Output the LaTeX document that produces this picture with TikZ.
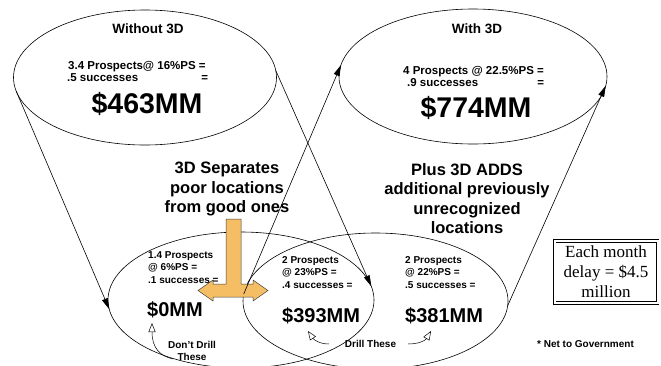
\documentclass[tikz,border=0pt]{standalone}
\usepackage{fontspec}
\setmainfont{Liberation Sans}
\newfontfamily\serifface{Liberation Serif}
\usetikzlibrary{shapes.geometric,arrows.meta}

\newcommand\fsz[2]{\fontsize{#1}{#2}\selectfont}
\definecolor{teefill}{RGB}{245,190,100}

\begin{document}
\begin{tikzpicture}[x=1pt,y=-1pt,
  bubble/.style={draw, ellipse, inner sep=0pt, outer sep=0pt, line width=0.6pt},
  link/.style={-{Triangle[length=11pt,width=6pt]}, line width=0.6pt},
  hint/.style={-{Triangle[open,length=9pt,width=7pt]}, line width=0.5pt},
  every node/.style={inner sep=0pt, font=\bfseries},
  heading/.style={anchor=base, font=\bfseries\fsz{13.5}{15}},
  calcline/.style={anchor=base west, font=\bfseries\fsz{11.5}{12}},
  bigsum/.style={anchor=base, font=\bfseries\fsz{28.5}{30}},
  notetxt/.style={align=center, anchor=north, font=\bfseries\fsz{16.5}{19.5}},
  smalltxt/.style={align=left, anchor=north west, font=\bfseries\fsz{10}{12.5}},
  midsum/.style={anchor=base west, font=\bfseries\fsz{20}{22}},
  tinytxt/.style={anchor=base, font=\bfseries\fsz{10}{11}},
]
\useasboundingbox (0,0) rectangle (661,365);
\fill[white] (0,0) rectangle (661,365);
\clip (0,0) rectangle (661,365);

% the four prospect populations
\node[bubble, minimum width=263pt, minimum height=135pt] (tl) at (145,77.5) {};
\node[bubble, minimum width=268pt, minimum height=135pt] (tr) at (473,76.5) {};
\node[bubble, minimum width=266pt, minimum height=136pt] (bl) at (241,300) {};
\node[bubble, minimum width=265pt, minimum height=136pt] (br) at (375.5,301) {};

% separating arrow (stem with a double-headed bar)
\filldraw[fill=teefill, draw=black!75, line width=0.5pt]
  (226,219) -- (241,219) -- (241,284) -- (253,284) -- (253,280) -- (268,290.5)
  -- (253,301) -- (253,297) -- (213,297) -- (213,301) -- (198,290.5)
  -- (213,280) -- (213,284) -- (226,284) -- cycle;

% funnel lines
\draw[link] (tl.186) -- (bl.184);
\draw[link] (tl.3) -- (bl.6);
\draw[link] (br.177) -- (tr.175);
\draw[link] (br.358) -- (tr.356);

% upper populations
\node[heading] (h1) at (148,33) {Without 3D};
\node[heading] (h2) at (477,33) {With 3D};
\node[calcline] (c1a) at (68,69.5) {3.4 Prospects@ 16\%PS =};
\node[calcline] (c1b) at (67,81.5) {\makebox[141pt][l]{.5 successes\hfill=}};
\node[bigsum] (v1) at (147,113) {\$463MM};
\node[calcline] (c2a) at (403,74) {4 Prospects @ 22.5\%PS =};
\node[calcline] (c2b) at (407,86) {\makebox[137pt][l]{.9 successes\hfill=}};
\node[bigsum] (v2) at (476,117.5) {\$774MM};

% explanatory notes
\node[notetxt] (n1) at (227,162.2) {3D Separates\\poor locations\\from good ones};
\node[notetxt] (n2) at (467,163.2) {Plus 3D ADDS\\additional previously\\unrecognized\\locations};

% lower populations
\node[smalltxt] (p1) at (148,251) {1.4 Prospects\\@ 6\%PS =\\.1 successes =};
\node[midsum] (v3) at (147,316) {\$0MM};
\node[smalltxt] (p2) at (282,256) {2 Prospects\\@ 23\%PS =\\.4 successes =};
\node[midsum] (v4) at (282,322) {\$393MM};
\node[smalltxt] (p3) at (405,256) {2 Prospects\\@ 22\%PS =\\.5 successes =};
\node[midsum] (v5) at (405,322) {\$381MM};

\node[smalltxt, align=center, anchor=north] (dd) at (192,341) {Don't Drill\\These};
\node[tinytxt] (dt) at (370.5,347) {Drill These};
\node[tinytxt] (net) at (585.5,347) {* Net to Government};

% pointers from the drill labels
\coordinate (dd0) at (173,359);
\coordinate (dd1) at (152,323);
\draw[hint] (dd0) .. controls (160,356) and (152,348) .. (dd1);
\coordinate (dl0) at (329,344);
\coordinate (dl1) at (308,331);
\draw[hint] (dl0) .. controls (320,344) and (314,340) .. (dl1);
\coordinate (dr0) at (408,344);
\coordinate (dr1) at (431,331);
\draw[hint] (dr0) .. controls (418,344) and (425,341) .. (dr1);

% cost of delay
\node[draw, double, double distance=2pt, line width=0.7pt,
      minimum width=103pt, minimum height=62pt, align=center,
      font=\serifface\fsz{17}{20}] (delay) at (606,272)
      {Each month\\delay = \$4.5\\million};
\end{tikzpicture}
\end{document}
